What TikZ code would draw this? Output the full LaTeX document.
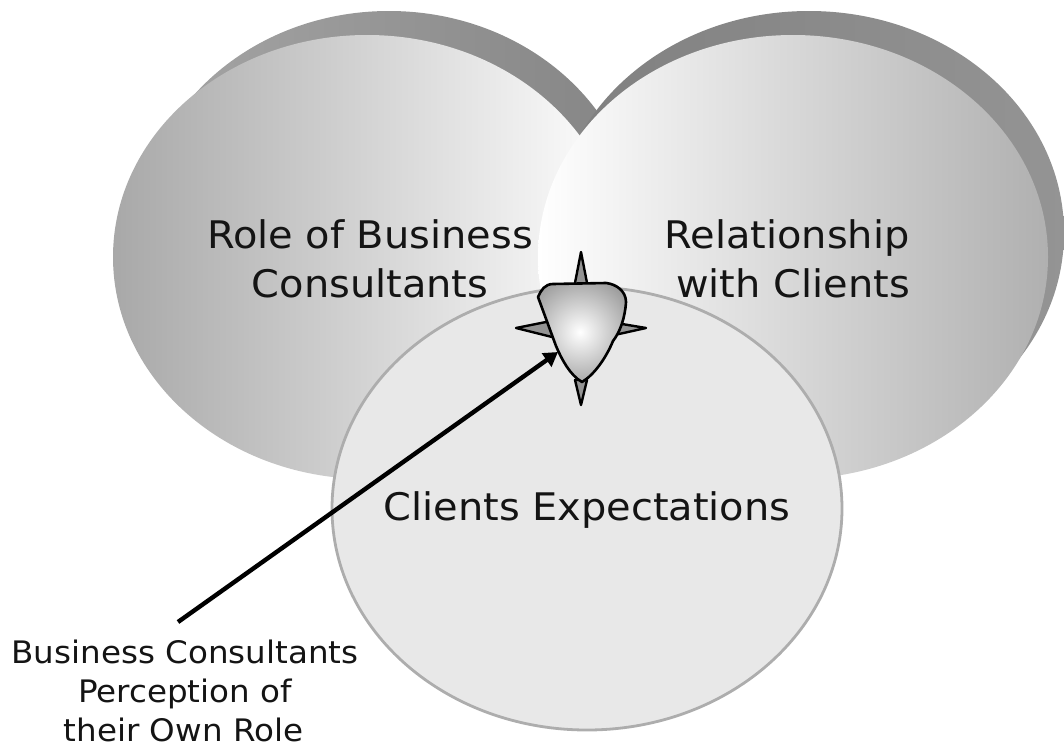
\documentclass[tikz,border=0pt]{standalone}
\usepackage{fontspec}
\setmainfont[FakeStretch=1.05]{DejaVu Sans}
\usetikzlibrary{shapes.geometric,arrows.meta}
\definecolor{txt}{gray}{0.08}
\tikzset{
  disc/.style={ellipse,minimum width=510pt,minimum height=444pt,inner sep=0pt,outer sep=0pt},
  bigtext/.style={align=center,text=txt,font=\fontsize{38}{48.5}\selectfont,inner sep=0pt},
  smalltext/.style={align=center,text=txt,font=\fontsize{31}{39}\selectfont,inner sep=0pt},
  spike/.style={draw=black,line width=2.4pt,line join=round,fill=black!42},
}
\begin{document}
\begin{tikzpicture}[x=1pt,y=-1pt]
\useasboundingbox (0,0) rectangle (1064,747);
\clip (0,0) rectangle (1064,747);
% shadows
\node[disc,minimum width=498pt,left color=black!35,middle color=black!68,right color=black!48] (ls) at (389,233) {};
\node[disc,left color=black!50,middle color=black!68,right color=black!42] (rs) at (809,233) {};
% upper discs
\node[disc,minimum width=508pt,left color=black!34,right color=white] (role) at (367,257) {};
\node[disc,left color=white,right color=black!31] (rel) at (793,257) {};
% lower disc
\node[disc,fill=black!9,draw=black!32,line width=2.8pt,minimum width=510pt,minimum height=443pt] (exp) at (587,508.5) {};
% labels
\node[bigtext] (tr) at (370,259) {Role of Business\\Consultants};
\node[bigtext] (tl) at (787,259) {Relationship\\\hspace*{12pt}with Clients};
\node[bigtext] (te) at (587,510) {Clients Expectations};
\node[smalltext] (tb) at (185,691) {Business Consultants\\Perception of\hspace*{12pt}\\their Own Role\hspace*{3pt}};
% star spikes
\draw[spike] (574,288) -- (581,252) -- (588,288) -- cycle;
\draw[spike] (575,380) -- (581,405) -- (587,380) -- cycle;
\draw[spike] (556,320) -- (516,328) -- (556,338) -- cycle;
\draw[spike] (610,322) -- (646,328) -- (610,336) -- cycle;
% star body
\def\starbody{(538,297) .. controls (541,290) and (545,284) .. (553,284)
  -- (606,283) .. controls (616,284) and (626,291) .. (626,302)
  .. controls (625,318) and (620,332) .. (613,341)
  .. controls (606,358) and (594,375) .. (582,382)
  .. controls (570,375) and (562,360) .. (556,346) -- cycle}
\begin{scope}
\clip \starbody;
\shade[inner color=white,outer color=black!58] (580,332) circle (86);
\end{scope}
\draw[black,line width=2.6pt,line join=round] \starbody;
\coordinate (tip) at (558,352);
\coordinate (tail) at (178,622);
\draw[-{Triangle[length=14pt,width=16pt]},line width=4.4pt,black] (tail) -- (tip);
\end{tikzpicture}
\end{document}
